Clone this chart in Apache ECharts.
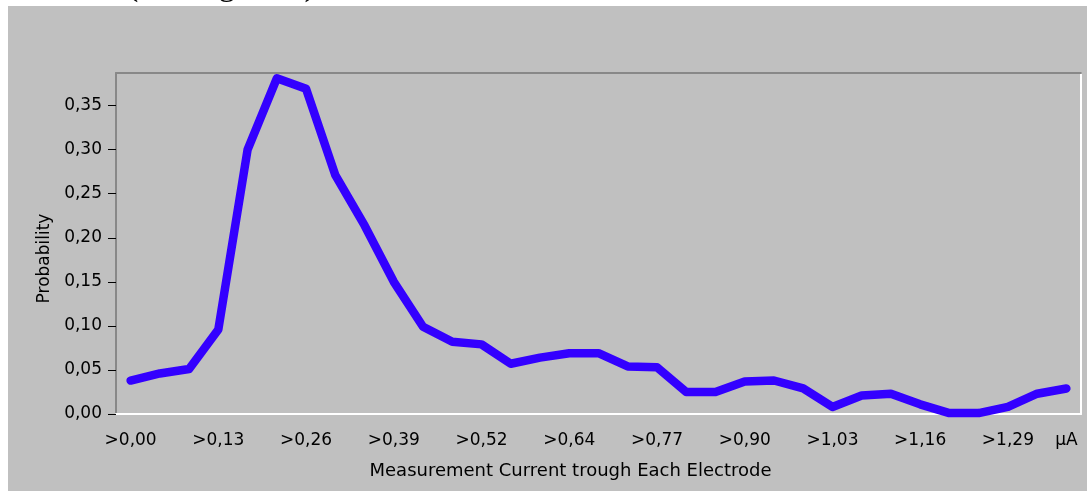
<!DOCTYPE html>
<html>
<head>
<meta charset="utf-8">
<script src="https://cdn.jsdelivr.net/npm/echarts@6/dist/echarts.min.js"></script>
<style>
  html, body { margin: 0; padding: 0; background: #fff; }
  #chart { width: 1087px; height: 491px; }
</style>
</head>
<body>
<div id="chart"></div>
<script>
// categories (one per bin, labels only every third bin)
const categories = [
  ">0,00", "", "", ">0,13", "", "", ">0,26", "", "", ">0,39", "", "",
  ">0,52", "", "", ">0,64", "", "", ">0,77", "", "", ">0,90", "", "",
  ">1,03", "", "", ">1,16", "", "", ">1,29", "", "μA"
];
// probability per bin
const probability = [
  0.038, 0.046, 0.051, 0.096, 0.300, 0.381, 0.369, 0.271, 0.214, 0.150, 0.099,
  0.082, 0.079, 0.057, 0.064, 0.069, 0.069, 0.054, 0.053, 0.025, 0.025, 0.037,
  0.038, 0.029, 0.008, 0.021, 0.023, 0.011, 0.001, 0.001, 0.008, 0.023, 0.029
];
const yTicks = [0, 0.05, 0.10, 0.15, 0.20, 0.25, 0.30, 0.35];

const font = "DejaVu Sans";

let myChart = echarts.init(document.getElementById("chart"));
let option = {
  backgroundColor: "#fff",
  animation: false,
  graphic: [
    {
      type: "rect",
      z: -10,
      shape: { x: 8, y: 6, width: 1100, height: 486 },
      style: { fill: "#c0c0c0" }
    },
    {
      // caption above the figure, cut off by the page edge
      type: "text",
      z: -20,
      style: {
        x: 127,
        y: 3,
        verticalAlign: "bottom",
        text: "(see Figure 4)",
        font: "34px 'Liberation Serif'",
        fill: "#000"
      }
    }
  ],
  grid: {
    left: 116,
    top: 73,
    right: 6,
    bottom: 77
  },
  xAxis: [
    {
      type: "category",
      data: categories,
      boundaryGap: true,
      name: "Measurement Current trough Each Electrode",
      nameLocation: "middle",
      nameGap: 48,
      nameTextStyle: { color: "#000", fontFamily: font, fontSize: 18, padding: [0, 56, 0, 0] },
      axisLine: { onZero: false, lineStyle: { color: "#fff", width: 2 } },
      axisTick: { alignWithLabel: true, interval: 0, length: 7, lineStyle: { color: "#000" } },
      axisLabel: { interval: 0, margin: 18, color: "#000", fontFamily: font, fontSize: 17 },
      splitLine: { show: false }
    },
    {
      type: "category",
      data: categories,
      position: "top",
      axisLine: { onZero: false, lineStyle: { color: "#888", width: 2 } },
      axisTick: { show: false },
      axisLabel: { show: false }
    }
  ],
  yAxis: [
    {
      type: "value",
      min: 0,
      max: 0.387,
      name: "Probability",
      nameLocation: "middle",
      nameGap: 58,
      nameTextStyle: { color: "#000", fontFamily: font, fontSize: 17, padding: [0, 30, 0, 0] },
      axisLine: { show: true, onZero: false, lineStyle: { color: "#888", width: 2 } },
      axisTick: { show: true, length: 8, customValues: yTicks, lineStyle: { color: "#000" } },
      axisLabel: {
        margin: 14,
        color: "#000",
        fontFamily: font,
        fontSize: 17,
        customValues: yTicks,
        formatter: v => v.toFixed(2).replace(".", ",")
      },
      splitLine: { show: false }
    },
    {
      type: "value",
      min: 0,
      max: 0.387,
      position: "right",
      axisLine: { show: true, onZero: false, lineStyle: { color: "#fff", width: 2 } },
      axisTick: { show: false },
      axisLabel: { show: false },
      splitLine: { show: false }
    }
  ],
  series: [
    {
      type: "line",
      data: probability,
      showSymbol: false,
      symbol: "none",
      lineStyle: { color: "#3300ff", width: 8.5, cap: "round", join: "round" }
    }
  ]
};
myChart.setOption(option);
</script>
</body>
</html>
